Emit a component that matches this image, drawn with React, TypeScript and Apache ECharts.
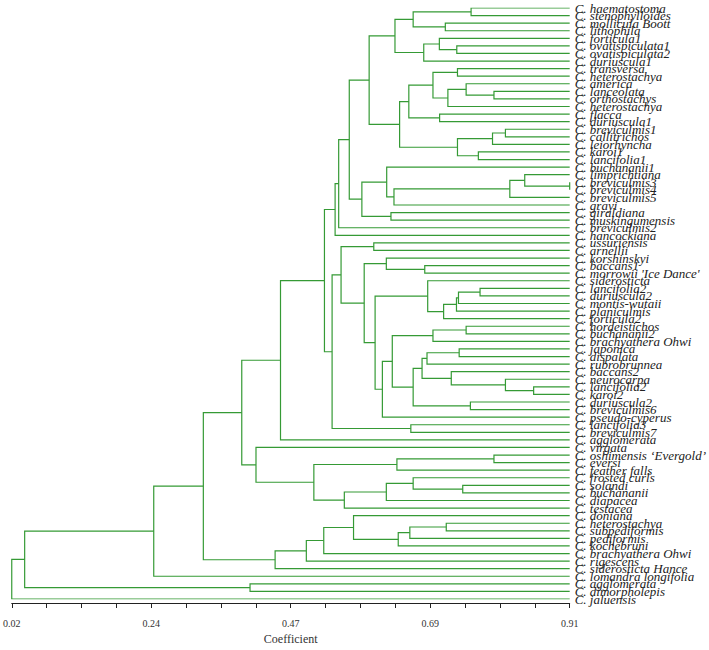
import React, { useEffect, useRef } from "react";
import * as echarts from "echarts";

// Leaf labels (top to bottom)
const leaves: string[] = [
  "C. haematostoma", "C. stenophylloides", "C. mollicula Boott", "C. lithophila", "C. forticula1",
  "C. ovatispiculata1", "C. ovatispiculata2", "C. duriuscula1", "C. transversa", "C. heterostachya",
  "C. america", "C. lanceolata", "C. orthostachys", "C. heterostachya", "C. flacca",
  "C. duriuscula1", "C. breviculmis1", "C. callitrichos", "C. leiorhyncha", "C. karoi1",
  "C. lancifolia1", "C. buchananii1", "C. limprichtiana", "C. breviculmis3", "C. breviculmis4",
  "C. breviculmis5", "C. grayi", "C. giraldiana", "C. muskingumensis", "C. breviculmis2",
  "C. hancockiana", "C. ussuriensis", "C. arnellii", "C. korshinskyi", "C. baccans1",
  "C. morrowii 'Ice Dance'", "C. siderosticta", "C. lancifolia2", "C. duriuscula2", "C. montis-wutaii",
  "C. planiculmis", "C. forticula2", "C. hordeistichos", "C. buchananii2", "C. brachyathera Ohwi",
  "C. japonica", "C. dispalata", "C. rubrobrunnea", "C. baccans2", "C. neurocarpa",
  "C. lancifolia2", "C. karoi2", "C. duriuscula2", "C. breviculmis6", "C. pseudo-cyperus",
  "C. lancifolia3", "C. breviculmis7", "C. agglomerata", "C. virgata", "C. oshimensis \u2018Evergold\u2019",
  "C. eversi", "C. feather falls", "C. frosted curls", "C. solandi", "C. buchananii",
  "C. diapacea", "C. testacea", "C. doniana", "C. heterostachya", "C. subpediformis",
  "C. pediformis", "C. kochebruni", "C. brachyathera Ohwi", "C. rigescens", "C. siderosticta Hance",
  "C. lomandra longifolia", "C. agglomerata", "C. dimorpholepis", "C. jaluensis",
];

// Linkage: merge k creates node 79 + k from children mergeA[k], mergeB[k] at coefficient mergeH[k]
const mergeA: number[] = [
  0, 2, 79, 5, 4, 83, 81, 8, 11, 10, 88, 86, 14, 90, 16, 93, 19, 94, 92, 85,
  23, 22, 100, 101, 21, 27, 103, 98, 106, 107, 31, 34, 33, 37, 112, 113, 114, 36, 42, 117,
  45, 119, 50, 49, 48, 120, 52, 124, 118, 127, 116, 111, 109, 55, 131, 108, 134, 59, 136, 63,
  62, 139, 140, 137, 58, 135, 68, 145, 146, 67, 148, 149, 150, 144, 152, 76, 153, 155,
];
const mergeB: number[] = [
  1, 3, 80, 6, 82, 7, 84, 9, 12, 87, 13, 89, 15, 91, 17, 18, 20, 95, 96, 97,
  24, 99, 25, 26, 102, 28, 104, 105, 29, 30, 32, 35, 110, 38, 39, 40, 41, 115, 43, 44,
  46, 47, 51, 121, 122, 123, 53, 125, 126, 54, 128, 129, 130, 56, 132, 133, 57, 60, 61, 64,
  138, 65, 66, 141, 142, 143, 69, 70, 71, 147, 72, 73, 74, 151, 75, 77, 154, 78,
];
const mergeH: number[] = [
  0.7527, 0.7116, 0.6603, 0.7299, 0.7021, 0.6772, 0.6313, 0.7310, 0.7892, 0.7448,
  0.7157, 0.6919, 0.7025, 0.6534, 0.8075, 0.7869, 0.7643, 0.7310, 0.6387, 0.5901,
  0.91, 0.8383, 0.8145, 0.6297, 0.6181, 0.6249, 0.5785, 0.5584, 0.5415, 0.5358,
  0.5975, 0.6788, 0.6175, 0.7670, 0.7326, 0.7294, 0.7089, 0.6835, 0.7448, 0.6919,
  0.7337, 0.6824, 0.8525, 0.8075, 0.7211, 0.6745, 0.7516, 0.6603, 0.6270, 0.6112,
  0.5996, 0.5822, 0.5453, 0.6566, 0.5310, 0.5188, 0.4487, 0.7892, 0.6344, 0.7394,
  0.6603, 0.6175, 0.5505, 0.5019, 0.4096, 0.3869, 0.7131, 0.6550, 0.6365, 0.5652,
  0.5177, 0.4899, 0.4401, 0.3256, 0.2465, 0.4001, 0.0406, 0.02,
];

const xTickLabels: string[] = ["0.02", "0.24", "0.47", "0.69", "0.91"];
const coefMin = 0.02;
const coefMax = 0.91;

export default function App() {
  const ref = useRef<HTMLDivElement>(null);
  useEffect(() => {
    if (!ref.current) return;
    document.body.style.margin = "0";
    const chart = echarts.init(ref.current, undefined, { renderer: "svg" });
    const n = leaves.length;
    const hx: number[] = [];
    const hy: number[] = [];
    for (let i = 0; i < n; i++) {
      hx[i] = coefMax;
      hy[i] = i;
    }
    const segs: any[] = [];
    for (let k = 0; k < mergeA.length; k++) {
      const a = mergeA[k];
      const b = mergeB[k];
      const h = mergeH[k];
      const id = n + k;
      hx[id] = h;
      hy[id] = (hy[a] + hy[b]) / 2;
      segs.push({
        coords: [
          [hx[a], hy[a]],
          [h, hy[a]],
          [h, hy[b]],
          [hx[b], hy[b]],
        ],
      });
    }
    const serif = "'Liberation Serif', 'Times New Roman', serif";
    chart.setOption({
      animation: false,
      backgroundColor: "#ffffff",
      grid: { left: 10, right: 137, top: 8, bottom: 38, containLabel: false },
      xAxis: [
        { type: "value", min: coefMin, max: coefMax, show: false },
        {
          type: "value",
          min: 0,
          max: 4,
          interval: 1,
          position: "bottom",
          offset: 4,
          axisLine: { show: true, lineStyle: { color: "#222", width: 1 } },
          axisTick: { show: true, length: 5, lineStyle: { color: "#222" } },
          minorTick: { show: true, splitNumber: 4, length: 5, lineStyle: { color: "#222" } },
          splitLine: { show: false },
          axisLabel: {
            margin: 15,
            fontSize: 10,
            color: "#333",
            fontFamily: serif,
            showMinLabel: true,
            showMaxLabel: true,
            formatter: (v: number) => xTickLabels[Math.round(v)] ?? "",
          },
          name: "Coefficient",
          nameLocation: "middle",
          nameGap: 30,
          nameTextStyle: { fontSize: 12, color: "#333", fontFamily: serif },
        },
      ],
      yAxis: [
        {
          type: "value",
          min: 0,
          max: n - 1,
          inverse: true,
          show: false,
        },
        {
          type: "category",
          data: leaves,
          boundaryGap: false,
          inverse: true,
          position: "right",
          axisLine: { show: false },
          axisTick: { show: false },
          splitLine: { show: false },
          axisLabel: {
            interval: 0,
            margin: 5,
            fontSize: 13,
            fontStyle: "italic",
            fontFamily: serif,
            color: "#222",
          },
        },
      ],
      series: [
        {
          type: "lines",
          coordinateSystem: "cartesian2d",
          xAxisIndex: 0,
          yAxisIndex: 0,
          polyline: true,
          silent: true,
          lineStyle: { color: "#359a35", width: 1.2, opacity: 1 },
          data: segs,
        },
      ],
    });
    return () => chart.dispose();
  }, []);
  return <div ref={ref} style={{ width: 709, height: 650 }} />;
}
